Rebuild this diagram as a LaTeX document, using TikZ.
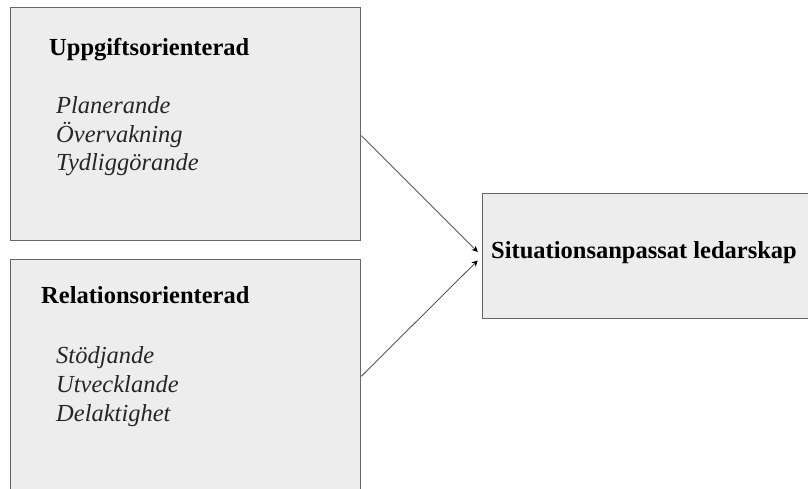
\documentclass[tikz,border=0pt]{standalone}
\usepackage{fontspec}
\setmainfont{Liberation Serif}
\usetikzlibrary{arrows.meta}
\begin{document}
\begin{tikzpicture}[x=1pt,y=-1pt,
  box/.style={draw=black!60, line width=1.4pt, fill=black!7, inner sep=0pt, anchor=north west},
  head/.style={anchor=base west, inner sep=0pt, font=\fontsize{24.5}{29}\selectfont\bfseries},
  item/.style={anchor=base west, inner sep=0pt, font=\fontsize{24.5}{29}\selectfont\itshape, text=black!85},
  link/.style={draw=black!65, line width=0.9pt, -{Stealth[length=6pt,width=6pt,black]}, shorten >=6pt}]
\useasboundingbox (0,0) rectangle (808,488);
\node[box, minimum width=350pt, minimum height=233pt] (top) at (10,7) {};
\node[box, minimum width=350pt, minimum height=233pt] (bot) at (10,259) {};
\node[box, minimum width=340pt, minimum height=125pt] (right) at (482,193) {};
\node[head] (h1) at (49,55) {Uppgiftsorienterad};
\node[item] (a1) at (56,113) {Planerande};
\node[item] (a2) at (56,142) {Övervakning};
\node[item] (a3) at (56,170) {Tydliggörande};
\node[head] (h2) at (41,303) {Relationsorienterad};
\node[item] (b1) at (56,363) {Stödjande};
\node[item] (b2) at (56,392) {Utvecklande};
\node[item] (b3) at (56,421) {Delaktighet};
\node[head] (h3) at (491,258) {Situationsanpassat ledarskap};
\draw[link] ([yshift=-11.5pt]top.east) -- (right.west);
\draw[link] (bot.east) -- (right.west);
\end{tikzpicture}
\end{document}
